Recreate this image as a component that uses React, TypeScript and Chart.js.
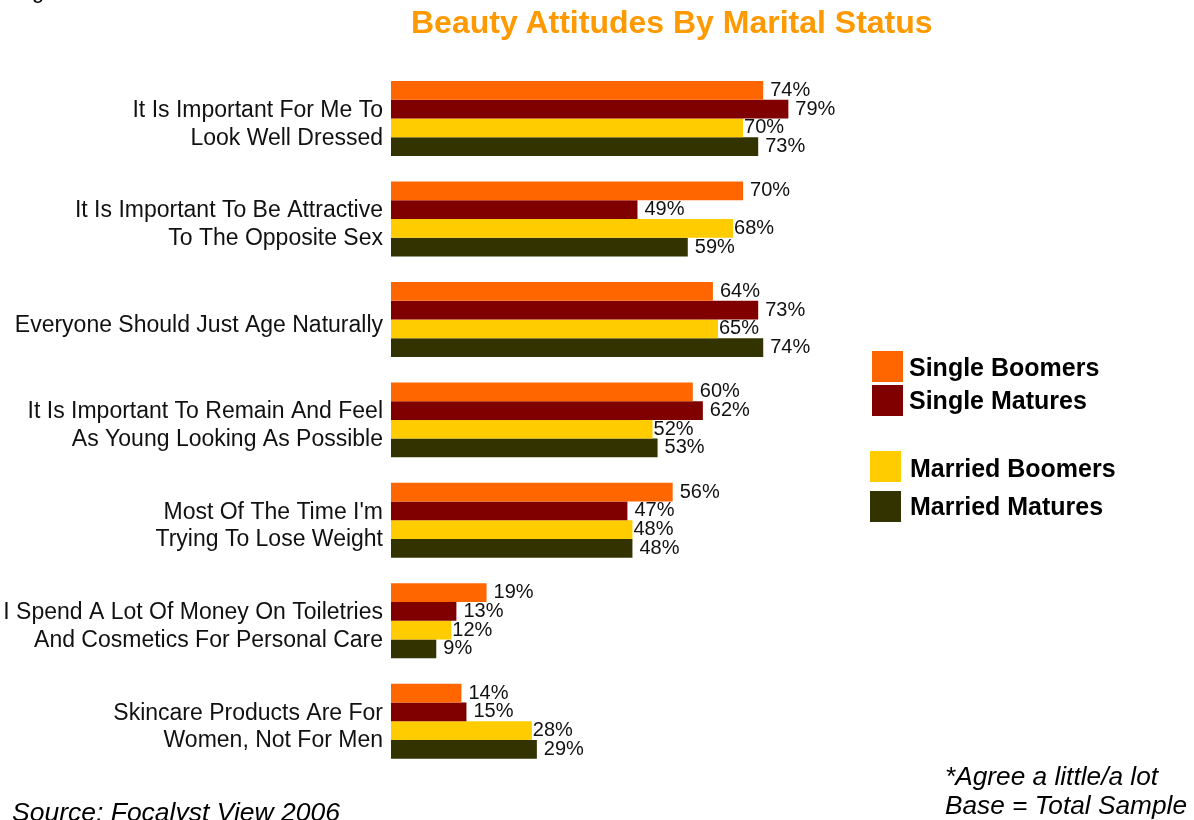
import React, { useEffect, useRef } from "react";
import { Chart, registerables } from "chart.js";

Chart.register(...registerables);

// ---------- data ----------
const categories: string[][] = [
  ["It Is Important For Me To", "Look Well Dressed"],
  ["It Is Important To Be Attractive", "To The Opposite Sex"],
  ["Everyone Should Just Age Naturally"],
  ["It Is Important To Remain And Feel", "As Young Looking As Possible"],
  ["Most Of The Time I'm", "Trying To Lose Weight"],
  ["I Spend A Lot Of Money On Toiletries", "And Cosmetics For Personal Care"],
  ["Skincare Products Are For", "Women, Not For Men"],
];
const seriesNames = ["Single Boomers", "Single Matures", "Married Boomers", "Married Matures"];
const singleBoomers = [74, 70, 64, 60, 56, 19, 14];
const singleMatures = [79, 49, 73, 62, 47, 13, 15];
const marriedBoomers = [70, 68, 65, 52, 48, 12, 28];
const marriedMatures = [73, 59, 74, 53, 48, 9, 29];
const seriesColors = ["#FF6600", "#800000", "#FFCC00", "#333300"];

const titleText = "Beauty Attitudes By Marital Status";
const sourceText = "Source: Focalyst View 2006";
const noteLines = ["*Agree a little/a lot", "Base = Total Sample"];

// ---------- style ----------
const FONT = "'Liberation Sans', Arial, Helvetica, sans-serif";
const labelOffsets = [7, 7, 1, 7];
const legendSlots = [
  { sx: 872, sy: 351, tx: 909, ty: 354.5 },
  { sx: 872, sy: 385, tx: 909, ty: 388 },
  { sx: 870, sy: 451, tx: 910, ty: 455.5 },
  { sx: 870, sy: 491, tx: 910, ty: 494 },
];

const valueLabels = {
  id: "valueLabels",
  afterDatasetsDraw(chart: any) {
    const ctx = chart.ctx;
    ctx.save();
    ctx.font = `20px ${FONT}`;
    ctx.fillStyle = "#111";
    ctx.textAlign = "left";
    ctx.textBaseline = "middle";
    chart.data.datasets.forEach((ds: any, di: number) => {
      const meta = chart.getDatasetMeta(di);
      meta.data.forEach((bar: any, i: number) => {
        ctx.fillText(`${ds.data[i]}%`, bar.x + labelOffsets[di], bar.y);
      });
    });
    ctx.restore();
  },
};

export default function App() {
  const canvasRef = useRef<HTMLCanvasElement | null>(null);

  useEffect(() => {
    document.body.style.margin = "0";
    const series = [singleBoomers, singleMatures, marriedBoomers, marriedMatures];
    const chart = new Chart(canvasRef.current as HTMLCanvasElement, {
      type: "bar",
      data: {
        labels: categories as any,
        datasets: series.map((d, i) => ({
          label: seriesNames[i],
          data: d,
          backgroundColor: seriesColors[i],
          borderWidth: 0,
          categoryPercentage: 0.746,
          barPercentage: 1,
        })),
      },
      options: {
        indexAxis: "y",
        animation: false,
        responsive: false,
        layout: { padding: { top: 68.25, bottom: 48.5, left: 0, right: 300 } },
        plugins: {
          legend: { display: false },
          title: { display: false },
          tooltip: { enabled: false },
        },
        scales: {
          x: { display: false, min: 0, max: 100 },
          y: {
            grid: { display: false, drawTicks: false },
            border: { display: false },
            ticks: {
              font: { family: FONT, size: 23 },
              color: "#111",
              padding: 8,
              labelOffset: 6,
            },
            afterFit(scale: any) {
              scale.width = 391;
            },
          },
        },
      },
      plugins: [valueLabels],
    } as any);
    return () => chart.destroy();
  }, []);

  const abs = (extra: React.CSSProperties): React.CSSProperties => ({
    position: "absolute",
    whiteSpace: "nowrap",
    lineHeight: 1,
    fontFamily: FONT,
    ...extra,
  });

  return (
    <div style={{ position: "relative", width: 1194, height: 820, overflow: "hidden", background: "#fff" }}>
      <canvas ref={canvasRef} width={1194} height={820} style={{ position: "absolute", left: 0, top: 0 }} />
      <div style={abs({ left: 32, top: -19.6, fontSize: 22, color: "#000" })}>g</div>
      <div style={abs({ left: 411, top: 6.2, fontSize: 32, fontWeight: "bold", color: "#FF9900" })}>{titleText}</div>
      {seriesNames.map((name, i) => (
        <React.Fragment key={name}>
          <div
            style={{
              position: "absolute",
              left: legendSlots[i].sx,
              top: legendSlots[i].sy,
              width: 31,
              height: 31,
              background: seriesColors[i],
            }}
          />
          <div style={abs({ left: legendSlots[i].tx, top: legendSlots[i].ty, fontSize: 25, fontWeight: "bold", color: "#000" })}>
            {name}
          </div>
        </React.Fragment>
      ))}
      <div
        style={abs({
          left: 11.5,
          top: 821 - 0.8465 * 25,
          fontSize: 25,
          fontStyle: "italic",
          color: "#000",
          transform: "scaleX(1.06)",
          transformOrigin: "left top",
        })}
      >
        {sourceText}
      </div>
      {noteLines.map((t, i) => (
        <div
          key={t}
          style={abs({
            left: 945,
            top: 785 + i * 29 - 0.8465 * 25,
            fontSize: 25,
            fontStyle: "italic",
            color: "#000",
            transform: "scaleX(1.05)",
            transformOrigin: "left top",
          })}
        >
          {t}
        </div>
      ))}
    </div>
  );
}
